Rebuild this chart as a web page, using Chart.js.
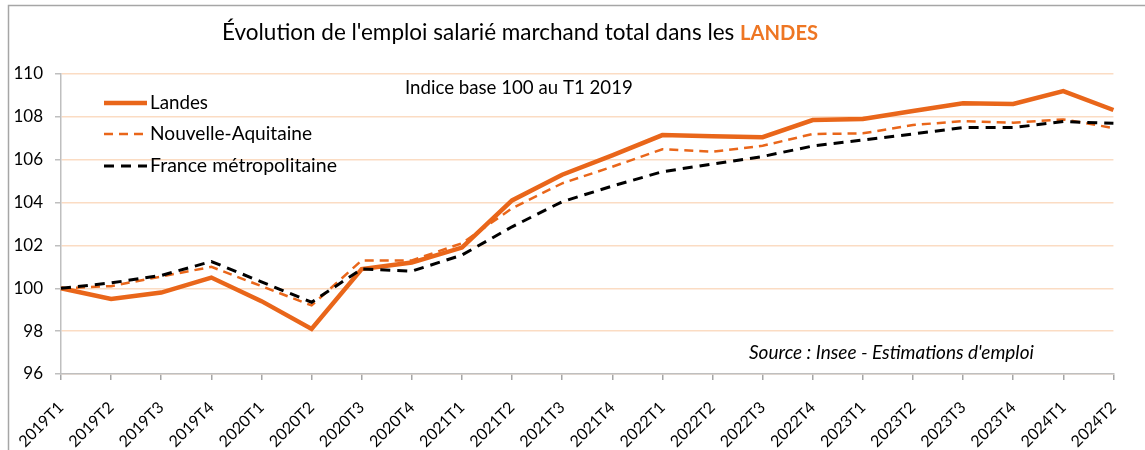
<!DOCTYPE html>
<html>
<head>
<meta charset="utf-8">
<script src="https://cdn.jsdelivr.net/npm/chart.js@4.4.1/dist/chart.umd.min.js"></script>
<style>
  html, body { margin: 0; padding: 0; background: #fff; }
  #wrap { width: 1145px; height: 450px; position: relative; }
</style>
</head>
<body>
<div id="wrap"><canvas id="emploi" width="1145" height="450"></canvas></div>
<script>
// quarters
const categories = ['2019T1','2019T2','2019T3','2019T4','2020T1','2020T2','2020T3','2020T4',
  '2021T1','2021T2','2021T3','2021T4','2022T1','2022T2','2022T3','2022T4',
  '2023T1','2023T2','2023T3','2023T4','2024T1','2024T2'];

// index base 100 au T1 2019
const landes = [100, 99.5, 99.8, 100.5, 99.4, 98.1, 100.9, 101.2, 101.9, 104.1, 105.3, 106.2,
  107.15, 107.1, 107.05, 107.85, 107.9, 108.27, 108.63, 108.6, 109.2, 108.32];
const nouvelleAquitaine = [100, 100.1, 100.55, 101.0, 100.1, 99.2, 101.3, 101.3, 102.1, 103.73, 104.9, 105.67,
  106.49, 106.37, 106.65, 107.2, 107.23, 107.62, 107.8, 107.73, 107.88, 107.48];
const franceMetro = [100, 100.25, 100.6, 101.25, 100.3, 99.35, 100.9, 100.8, 101.55, 102.87, 104.04, 104.77,
  105.44, 105.8, 106.15, 106.64, 106.92, 107.2, 107.5, 107.5, 107.78, 107.7];

const yTicks = [96, 98, 100, 102, 104, 106, 108, 110];

const ORANGE = '#E9661A';
const FONT = 'Lato, "Noto Sans", sans-serif';

// fit a text to a target width by adjusting the font size
function fitFont(ctx, text, width, style) {
  let size = 20;
  ctx.font = style + ' ' + size + 'px ' + FONT;
  size = size * width / ctx.measureText(text).width;
  return style + ' ' + size.toFixed(2) + 'px ' + FONT;
}

const overlay = {
  id: 'overlay',
  beforeDraw(chart) {
    const ctx = chart.ctx;
    ctx.save();
    ctx.fillStyle = '#fff';
    ctx.fillRect(0, 0, chart.width, chart.height);
    ctx.strokeStyle = '#A6A6A6';
    ctx.lineWidth = 1.5;
    ctx.strokeRect(8.5, 5.5, chart.width, chart.height);
    ctx.restore();
  },
  afterDraw(chart) {
    const ctx = chart.ctx;
    ctx.save();
    ctx.textBaseline = 'middle';
    ctx.textAlign = 'left';

    // title, two colours
    const t1 = "Évolution de l'emploi salarié marchand total dans les ";
    const t2 = 'LANDES';
    ctx.font = fitFont(ctx, t1, 518, 'normal');
    const w1 = ctx.measureText(t1).width;
    ctx.fillStyle = '#000';
    ctx.fillText(t1, 222, 33);
    ctx.font = fitFont(ctx, t2, 78, 'bold');
    ctx.fillStyle = '#EE7623';
    ctx.fillText(t2, 222 + w1, 33);

    // subtitle
    ctx.fillStyle = '#000';
    ctx.font = fitFont(ctx, 'Indice base 100 au T1 2019', 228, 'normal');
    ctx.fillText('Indice base 100 au T1 2019', 405, 88);

    // source
    ctx.font = fitFont(ctx, "Source : Insee - Estimations d'emploi", 285, 'italic');
    ctx.fillText("Source : Insee - Estimations d'emploi", 749, 353);

    // legend inside plot
    const ys = [103, 134, 166];
    const widths = [58, 162, 187];
    chart.data.datasets.forEach((ds, i) => {
      ctx.beginPath();
      ctx.strokeStyle = ds.borderColor;
      ctx.lineWidth = ds.borderWidth;
      ctx.setLineDash(ds.borderDash || []);
      ctx.moveTo(104, ys[i]);
      ctx.lineTo(147, ys[i]);
      ctx.stroke();
      ctx.setLineDash([]);
      ctx.fillStyle = '#000';
      ctx.font = fitFont(ctx, ds.label, widths[i], 'normal');
      ctx.fillText(ds.label, 150, ys[i]);
    });
    ctx.restore();
  }
};

new Chart(document.getElementById('emploi'), {
  type: 'line',
  data: {
    labels: categories,
    datasets: [
      {
        label: 'Landes',
        data: landes,
        borderColor: ORANGE,
        borderWidth: 4.5,
        pointRadius: 0,
        tension: 0,
        order: 3
      },
      {
        label: 'Nouvelle-Aquitaine',
        data: nouvelleAquitaine,
        borderColor: ORANGE,
        borderWidth: 2.5,
        borderDash: [9, 6],
        pointRadius: 0,
        tension: 0,
        order: 2
      },
      {
        label: 'France métropolitaine',
        data: franceMetro,
        borderColor: '#000',
        borderWidth: 3,
        borderDash: [10, 7],
        pointRadius: 0,
        tension: 0,
        order: 1
      }
    ]
  },
  options: {
    responsive: false,
    animation: false,
    devicePixelRatio: 1,
    layout: { padding: { top: 74, right: 23, bottom: 0, left: 0 } },
    plugins: {
      legend: { display: false },
      title: { display: false },
      tooltip: { enabled: false }
    },
    scales: {
      x: {
        offset: false,
        grid: { display: true, drawOnChartArea: false, drawTicks: true, tickLength: 6, color: '#A6A6A6', lineWidth: 1.5 },
        border: { color: '#BFBFBF', width: 1.5 },
        ticks: {
          autoSkip: false, maxRotation: 45, minRotation: 45, padding: 18,
          color: '#000', font: { family: FONT, size: 16 }
        },
        afterFit(scale) { scale.height = 76; }
      },
      y: {
        min: 96,
        max: 110,
        afterBuildTicks(scale) { scale.ticks = yTicks.map(v => ({ value: v })); },
        grid: { color: '#FBDCC3', lineWidth: 1.5, tickColor: '#BFBFBF', tickLength: 6 },
        border: { color: '#BFBFBF', width: 1.5 },
        ticks: { padding: 12, color: '#000', font: { family: FONT, size: 17 } },
        afterFit(scale) { scale.width = 61; }
      }
    }
  },
  plugins: [overlay]
});
</script>
</body>
</html>
